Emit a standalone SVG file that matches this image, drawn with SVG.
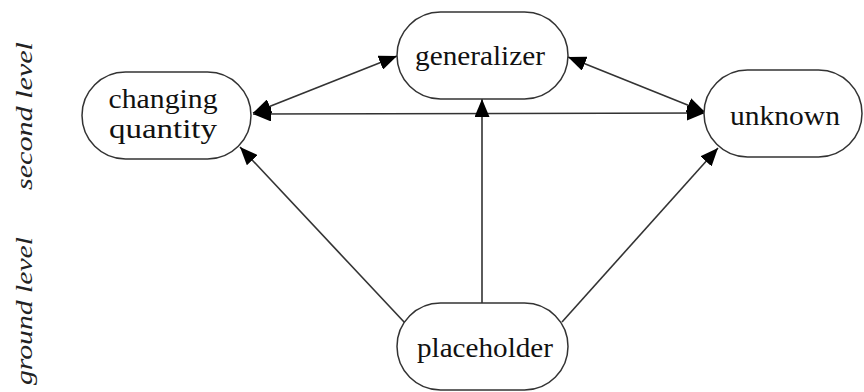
<svg xmlns="http://www.w3.org/2000/svg" width="864" height="392" viewBox="0 0 864 392">
<defs>
<marker id="ah" markerUnits="userSpaceOnUse" markerWidth="18" markerHeight="15" viewBox="0 0 18 15" refX="18" refY="7.5" orient="auto-start-reverse">
<path d="M0,0 L18,7.5 L0,15 Z" fill="#000"/>
</marker>
<style>
.node rect{fill:#fff;stroke:#333;stroke-width:1.5}
.node text{font-size:28px;fill:#111;text-anchor:middle}
.lvl{font-style:italic;font-size:23px;fill:#222;text-anchor:middle}
.conn line{stroke:#333;stroke-width:1.6;fill:none}
</style>
</defs>
<rect width="864" height="392" fill="#fff"/>
<text class="lvl" font-family="'Liberation Serif', 'Times New Roman', serif" transform="translate(32,116) rotate(-90)" textLength="148" lengthAdjust="spacingAndGlyphs">second level</text>
<text class="lvl" font-family="'Liberation Serif', 'Times New Roman', serif" transform="translate(32,311) rotate(-90)" textLength="148" lengthAdjust="spacingAndGlyphs">ground level</text>
<g class="conn">
<line x1="253" y1="114" x2="705" y2="113" stroke="#555" marker-start="url(#ah)" marker-end="url(#ah)"/>
<line x1="253" y1="113" x2="397" y2="56" marker-start="url(#ah)" marker-end="url(#ah)"/>
<line x1="568" y1="57" x2="705" y2="112" marker-start="url(#ah)" marker-end="url(#ah)"/>
<line x1="405" y1="323" x2="240" y2="147" marker-end="url(#ah)"/>
<line x1="482" y1="303" x2="482" y2="99" marker-end="url(#ah)"/>
<line x1="562" y1="322" x2="718" y2="148" marker-end="url(#ah)"/>
</g>
<g id="changing-quantity" class="node" font-family="'Liberation Serif', 'Times New Roman', serif">
<rect x="82" y="72" width="169" height="87" rx="43.5"/>
<text x="163" y="108" textLength="109" lengthAdjust="spacingAndGlyphs">changing</text>
<text x="163" y="138" textLength="108" lengthAdjust="spacingAndGlyphs">quantity</text>
</g>
<g id="generalizer" class="node" font-family="'Liberation Serif', 'Times New Roman', serif">
<rect x="397" y="12" width="171" height="87" rx="43.5"/>
<text x="480" y="65" textLength="130" lengthAdjust="spacingAndGlyphs">generalizer</text>
</g>
<g id="unknown" class="node" font-family="'Liberation Serif', 'Times New Roman', serif">
<rect x="704" y="70" width="158" height="87" rx="43.5"/>
<text x="785" y="125" textLength="110" lengthAdjust="spacingAndGlyphs">unknown</text>
</g>
<g id="placeholder" class="node" font-family="'Liberation Serif', 'Times New Roman', serif">
<rect x="397" y="303" width="171" height="87" rx="43.5"/>
<text x="485" y="357" textLength="136" lengthAdjust="spacingAndGlyphs">placeholder</text>
</g>
</svg>
